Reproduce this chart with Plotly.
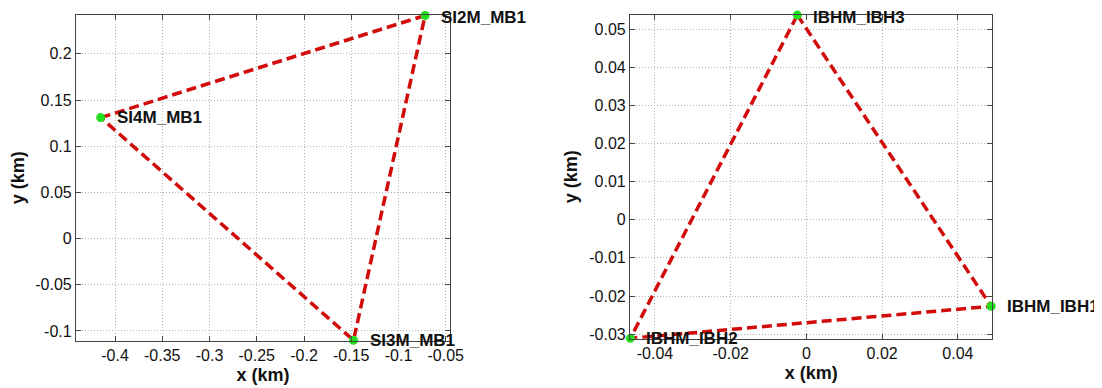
import plotly.graph_objects as go

# Left panel stations (km)
left_names = ["SI4M_MB1", "SI2M_MB1", "SI3M_MB1"]
left_x = [-0.4152, -0.0719, -0.1476]
left_y = [0.131, 0.2415, -0.110]

# Right panel stations (km)
right_names = ["IBHM_IBH3", "IBHM_IBH1", "IBHM_IBH2"]
right_x = [-0.0024, 0.0488, -0.0465]
right_y = [0.0537, -0.0227, -0.0311]

# Tick values / labels (hyphen minus as in the reference)
left_xticks = [-0.4, -0.35, -0.3, -0.25, -0.2, -0.15, -0.1, -0.05]
left_xlabels = ["-0.4", "-0.35", "-0.3", "-0.25", "-0.2", "-0.15", "-0.1", "-0.05"]
left_yticks = [-0.1, -0.05, 0, 0.05, 0.1, 0.15, 0.2]
left_ylabels = ["-0.1", "-0.05", "0", "0.05", "0.1", "0.15", "0.2"]
right_xticks = [-0.04, -0.02, 0, 0.02, 0.04]
right_xlabels = ["-0.04", "-0.02", "0", "0.02", "0.04"]
right_yticks = [-0.03, -0.02, -0.01, 0, 0.01, 0.02, 0.03, 0.04, 0.05]
right_ylabels = ["-0.03", "-0.02", "-0.01", "0", "0.01", "0.02", "0.03", "0.04", "0.05"]

LINE_COLOR = "#d10a0a"
MARK_COLOR = "#22e01e"
FONT = "Liberation Sans, Arial, sans-serif"

fig = go.Figure()

for xs, ys, ax in [(left_x, left_y, ("x", "y")), (right_x, right_y, ("x2", "y2"))]:
    cx = list(xs) + [xs[0]]
    cy = list(ys) + [ys[0]]
    fig.add_trace(go.Scatter(x=cx, y=cy, mode="lines",
                             line=dict(color=LINE_COLOR, width=3.5, dash="10px,5px"),
                             xaxis=ax[0], yaxis=ax[1], showlegend=False,
                             cliponaxis=False, hoverinfo="skip"))
    fig.add_trace(go.Scatter(x=xs, y=ys, mode="markers",
                             marker=dict(color=MARK_COLOR, size=9),
                             xaxis=ax[0], yaxis=ax[1], showlegend=False,
                             cliponaxis=False))

annotations = []
for names, xs, ys, xr, yr, ytop in [(left_names, left_x, left_y, "x", "y", 0.2415),
                                    (right_names, right_x, right_y, "x2", "y2", 0.0537)]:
    for n, x, y in zip(names, xs, ys):
        annotations.append(dict(x=x, y=y, xref=xr, yref=yr, text="<b>" + n + "</b>",
                                showarrow=False,
                                xanchor="left", yanchor="middle", xshift=14,
                                yshift=(-2 if y == ytop else 0),
                                font=dict(family=FONT, size=17, color="#111")))

axis_common = dict(showline=True, linecolor="#444", linewidth=1.2, mirror="ticks",
                   ticks="inside", ticklen=5, tickcolor="#444",
                   showgrid=True, gridcolor="#b4b4b4", griddash="1px,2px", gridwidth=1,
                   zeroline=False, automargin=False, tickmode="array",
                   tickfont=dict(family=FONT, size=16, color="#111"))
title_font = dict(family=FONT, size=18, color="#111")

# The page body adds an 8px offset; the figure is sized to fill the rest of the window.
fig.update_layout(
    width=1094, height=380, autosize=False,
    margin=dict(l=0, r=0, t=0, b=0),
    paper_bgcolor="white", plot_bgcolor="white",
    showlegend=False,
    annotations=annotations,
    xaxis=dict(domain=[0.06216, 0.40402], range=[-0.4413, -0.0455],
               tickvals=left_xticks, ticktext=left_xlabels,
               title=dict(text="<b>x (km)</b>", font=title_font, standoff=5), anchor="y",
               **axis_common),
    yaxis=dict(domain=[0.12447, 0.98158], range=[-0.1105, 0.242],
               tickvals=left_yticks, ticktext=left_ylabels,
               title=dict(text="<b>y (km)</b>", font=title_font, standoff=6), anchor="x",
               **axis_common),
    xaxis2=dict(domain=[0.56856, 0.89973], range=[-0.0466, 0.0491],
                tickvals=right_xticks, ticktext=right_xlabels,
                title=dict(text="<b>x (km)</b>", font=title_font, standoff=5), anchor="y2",
                **axis_common),
    yaxis2=dict(domain=[0.12974, 0.98237], range=[-0.0312, 0.0538],
                tickvals=right_yticks, ticktext=right_ylabels,
                title=dict(text="<b>y (km)</b>", font=title_font, standoff=6), anchor="x2",
                **axis_common),
)

fig.write_html("out.html")
